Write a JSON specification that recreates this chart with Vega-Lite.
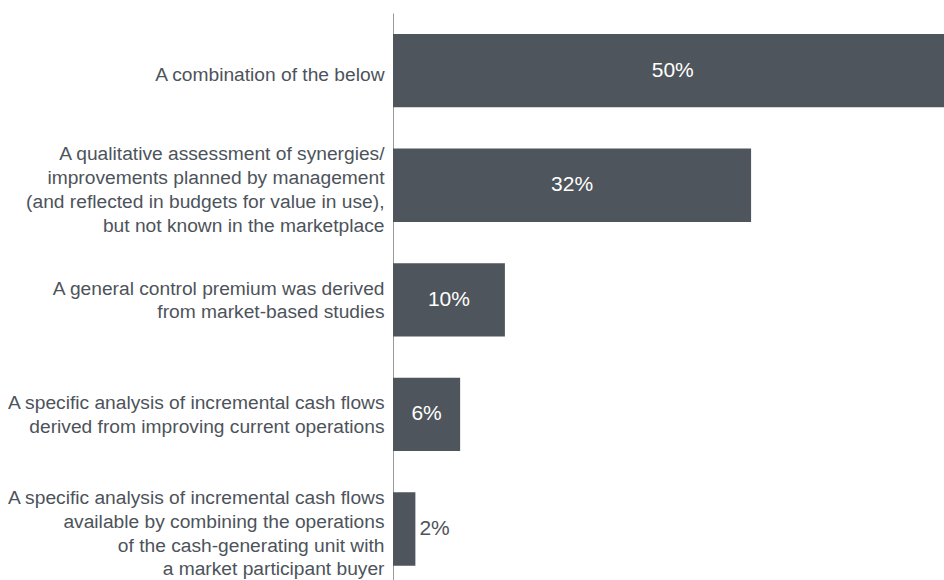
{
  "$schema": "https://vega.github.io/schema/vega-lite/v6.json",
  "autosize": {"type": "none"},
  "width": 551,
  "height": 567,
  "padding": {"left": 393, "top": 13, "right": 0, "bottom": 0},
  "background": "white",
  "config": {"view": {"stroke": null}, "font": "Liberation Sans"},
  "data": {
    "values": [
      {"cat": "A combination of the below", "value": 50, "label": "50%", "inside": true},
      {"cat": "A qualitative assessment of synergies/|improvements planned by management|(and reflected in budgets for value in use),|but not known in the marketplace", "value": 32, "label": "32%", "inside": true},
      {"cat": "A general control premium was derived|from market-based studies", "value": 10, "label": "10%", "inside": true},
      {"cat": "A specific analysis of incremental cash flows|derived from improving current operations", "value": 6, "label": "6%", "inside": true},
      {"cat": "A specific analysis of incremental cash flows|available by combining the operations|of the cash-generating unit with|a market participant buyer", "value": 2, "label": "2%", "inside": false}
    ]
  },
  "encoding": {
    "y": {
      "field": "cat",
      "type": "nominal",
      "sort": null,
      "scale": {"paddingInner": 0.36, "paddingOuter": 0.154, "align": 0.595},
      "axis": {
        "title": null,
        "ticks": false,
        "labelExpr": "split(datum.value, '|')",
        "labelLineHeight": 23.8,
        "labelFontSize": 19.2,
        "labelBaseline": "middle",
        "labelOffset": {
          "condition": [
            {"test": "length(split(datum.value, '|')) == 4", "value": -31},
            {"test": "length(split(datum.value, '|')) == 2", "value": -11.2}
          ],
          "value": 4.5
        },
        "labelColor": "#4d535b",
        "labelPadding": 9,
        "labelLimit": 400,
        "labelOverlap": false,
        "labelBound": false,
        "domainColor": "#9a9a9a",
        "domainWidth": 1
      }
    }
  },
  "layer": [
    {
      "mark": {"type": "bar", "color": "#4f555c", "clip": true},
      "encoding": {
        "x": {"field": "value", "type": "quantitative", "scale": {"domain": [0, 49.24], "nice": false}, "axis": null}
      }
    },
    {
      "transform": [{"filter": "datum.inside"}, {"calculate": "datum.value / 2", "as": "mid"}],
      "mark": {"type": "text", "color": "white", "fontSize": 21, "align": "center", "baseline": "middle"},
      "encoding": {
        "x": {"field": "mid", "type": "quantitative"},
        "text": {"field": "label"}
      }
    },
    {
      "transform": [{"filter": "!datum.inside"}],
      "mark": {"type": "text", "color": "#4d535b", "fontSize": 21, "align": "left", "baseline": "middle", "dx": 4},
      "encoding": {
        "x": {"field": "value", "type": "quantitative"},
        "text": {"field": "label"}
      }
    }
  ]
}
